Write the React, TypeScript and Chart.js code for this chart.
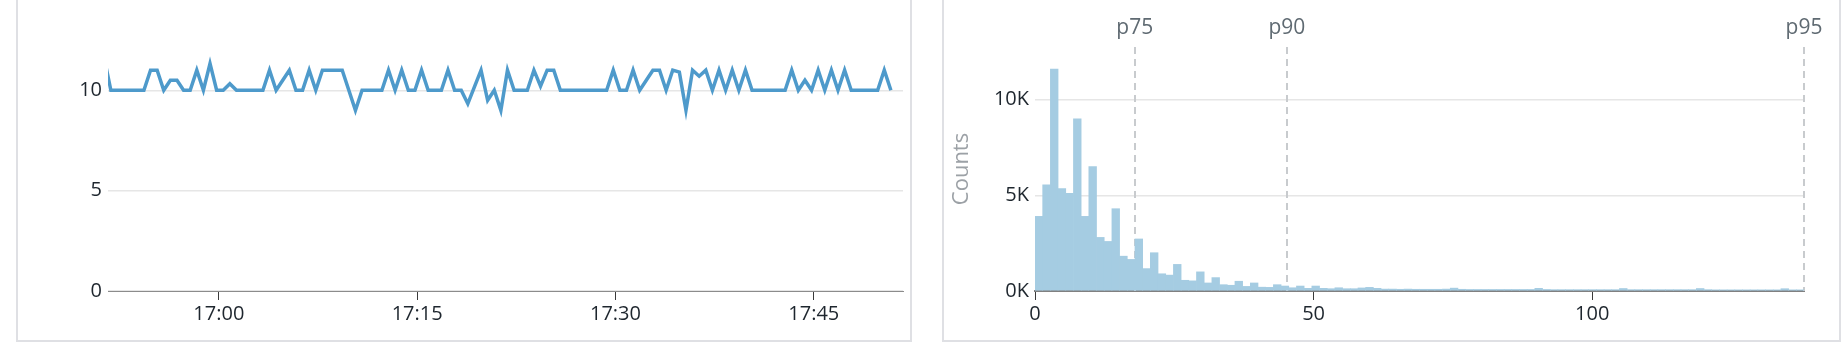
import React, { useEffect, useRef } from 'react';
import { Chart, registerables } from 'chart.js';

Chart.register(...registerables);
Chart.defaults.font.family = "'Open Sans', sans-serif";

// ---------- Left: time series ----------
const sampleStartSec = -520; // first sample, seconds relative to 17:00
const sampleStepSec = 30;
const lineValues = [
  11.6, 10, 10, 10, 10, 10, 10, 11, 11, 10,
  10.5, 10.5, 10, 10, 11, 10, 11.33, 10, 10, 10.33,
  10, 10, 10, 10, 10, 11, 10, 10.5, 11, 10,
  10, 11, 10, 11, 11, 11, 11, 10, 9, 10,
  10, 10, 10, 11, 10, 11, 10, 10, 11, 10,
  10, 10, 11, 10, 10, 9.33, 10.17, 11, 9.5, 10,
  9, 11, 10, 10, 10, 11, 10.2, 11, 11, 10,
  10, 10, 10, 10, 10, 10, 10, 11, 10, 10,
  11, 10, 10.5, 11, 11, 10, 11, 10.9, 9, 11,
  10.7, 11, 10, 11, 10, 11, 10, 11, 10, 10,
  10, 10, 10, 10, 11, 10, 10.5, 10, 11, 10,
  11, 10, 11, 10, 10, 10, 10, 10, 11, 10,
];
const lineXMin = -503;
const lineXMax = 3105;
const lineXTickValues = [0, 900, 1800, 2700];
const lineXTickLabels = ['17:00', '17:15', '17:30', '17:45'];
const lineYTicks = [0, 5, 10];
const lineYMax = 13.6;

// ---------- Right: histogram ----------
const binWidth = 1.38;
const binCounts = [
  3900, 5550, 11600, 5350, 5100, 9000, 3900, 6500, 2800, 2590,
  4300, 1820, 1650, 2720, 1170, 2000, 900, 830, 1390, 560,
  530, 1000, 420, 700, 330, 300, 510, 240, 420, 200,
  190, 330, 260, 170, 260, 140, 260, 140, 120, 170,
  120, 120, 160, 190, 140, 100, 100, 90, 100, 90,
  90, 90, 90, 100, 150, 90, 80, 80, 80, 80,
  80, 80, 80, 80, 80, 140, 80, 70, 70, 70,
  70, 70, 70, 70, 70, 70, 130, 70, 70, 70,
  70, 70, 70, 70, 70, 70, 130, 70, 60, 60,
  60, 60, 60, 60, 60, 60, 60, 120, 60, 60,
];
const histXMax = 138;
const histXTicks = [0, 50, 100];
const histYTicks = [0, 5000, 10000];
const histYMax = 12750;
const percentileLabels = ['p75', 'p90', 'p95'];
const percentileValues = [17.9, 45.2, 138];

const TICK_COLOR = '#1e262e';
const GRID_COLOR = '#e6e6e6';

const percentilePlugin = {
  id: 'percentiles',
  beforeDatasetsDraw(chart: any) {
    const { ctx, chartArea, scales } = chart;
    const x = scales.x;
    ctx.save();
    ctx.strokeStyle = '#c8cbce';
    ctx.lineWidth = 2;
    ctx.setLineDash([7, 5]);
    percentileValues.forEach((v) => {
      const px = Math.round(x.getPixelForValue(v));
      ctx.beginPath();
      ctx.moveTo(px, chartArea.top);
      ctx.lineTo(px, chartArea.bottom);
      ctx.stroke();
    });
    ctx.restore();
  },
  afterDraw(chart: any) {
    const { ctx, scales } = chart;
    const x = scales.x;
    ctx.save();
    ctx.fillStyle = '#5f6a72';
    ctx.font = "21px 'Open Sans', sans-serif";
    ctx.textAlign = 'center';
    ctx.textBaseline = 'alphabetic';
    percentileValues.forEach((v, i) => {
      const px = x.getPixelForValue(v);
      ctx.fillText(percentileLabels[i], px, 34);
    });
    ctx.restore();
  },
};

function LineChart() {
  const ref = useRef<HTMLCanvasElement>(null);
  useEffect(() => {
    const chart = new Chart(ref.current as HTMLCanvasElement, {
      type: 'line',
      data: {
        datasets: [
          {
            data: lineValues.map((v, i) => ({ x: sampleStartSec + i * sampleStepSec, y: v })),
            borderColor: '#4e9acb',
            borderWidth: 3.5,
            pointRadius: 0,
            tension: 0,
            fill: false,
            clip: { left: 0, right: 2, top: 5, bottom: 5 },
          },
        ],
      },
      options: {
        animation: false,
        responsive: true,
        maintainAspectRatio: false,
        events: [],
        layout: { padding: { top: 18, right: 3, bottom: 0, left: 0 } },
        plugins: { legend: { display: false }, tooltip: { enabled: false } },
        scales: {
          x: {
            type: 'linear',
            min: lineXMin,
            max: lineXMax,
            afterFit: (s: any) => { s.height = 47; },
            afterBuildTicks: (s: any) => { s.ticks = lineXTickValues.map((v) => ({ value: v })); },
            ticks: {
              autoSkip: false,
              maxRotation: 0,
              padding: 2,
              color: TICK_COLOR,
              font: { size: 20 },
              callback: (v: any) => {
                const i = lineXTickValues.indexOf(Number(v));
                return i >= 0 ? lineXTickLabels[i] : '';
              },
            },
            grid: { display: true, drawOnChartArea: false, drawTicks: true, tickLength: 9, tickColor: '#3a3a3a', tickWidth: 1 },
            border: { display: true, color: '#8c8c8c', width: 1 },
          },
          y: {
            type: 'linear',
            min: 0,
            max: lineYMax,
            afterFit: (s: any) => { s.width = 88; },
            afterBuildTicks: (s: any) => { s.ticks = lineYTicks.map((v) => ({ value: v })); },
            ticks: { padding: 6, color: TICK_COLOR, font: { size: 20 } },
            grid: { color: GRID_COLOR, drawTicks: false, lineWidth: 1.5 },
            border: { display: false },
          },
        },
      },
    } as any);
    return () => chart.destroy();
  }, []);
  return <canvas ref={ref} />;
}

function HistChart() {
  const ref = useRef<HTMLCanvasElement>(null);
  useEffect(() => {
    const chart = new Chart(ref.current as HTMLCanvasElement, {
      type: 'bar',
      data: {
        datasets: [
          {
            data: binCounts.map((c, i) => ({ x: (i + 0.5) * binWidth, y: c })),
            backgroundColor: '#a5cce2',
            borderWidth: 0,
            barPercentage: 1,
            categoryPercentage: 1,
          },
        ],
      },
      options: {
        animation: false,
        responsive: true,
        maintainAspectRatio: false,
        events: [],
        layout: { padding: { top: 47, right: 32, bottom: 0, left: 0 } },
        plugins: { legend: { display: false }, tooltip: { enabled: false } },
        scales: {
          x: {
            type: 'linear',
            min: 0,
            max: histXMax,
            offset: false,
            afterFit: (s: any) => { s.height = 47; },
            afterBuildTicks: (s: any) => { s.ticks = histXTicks.map((v) => ({ value: v })); },
            ticks: { autoSkip: false, maxRotation: 0, padding: 2, color: TICK_COLOR, font: { size: 20 } },
            grid: { display: true, offset: false, drawOnChartArea: false, drawTicks: true, tickLength: 9, tickColor: '#3a3a3a', tickWidth: 1 },
            border: { display: true, color: '#808080', width: 2 },
          },
          y: {
            type: 'linear',
            min: 0,
            max: histYMax,
            afterFit: (s: any) => { s.width = 89; },
            afterBuildTicks: (s: any) => { s.ticks = histYTicks.map((v) => ({ value: v })); },
            ticks: {
              padding: 6,
              color: TICK_COLOR,
              font: { size: 20 },
              callback: (v: any) => `${Math.round(Number(v) / 1000)}K`,
            },
            title: { display: true, text: 'Counts', color: '#9ca1a6', font: { size: 22 }, padding: { top: 3, bottom: 0 } },
            grid: { color: GRID_COLOR, drawTicks: false, lineWidth: 1.5 },
            border: { display: false },
          },
        },
      },
      plugins: [percentilePlugin],
    } as any);
    return () => chart.destroy();
  }, []);
  return <canvas ref={ref} />;
}

const panelStyle = (left: number, width: number): React.CSSProperties => ({
  position: 'absolute',
  left,
  top: -10,
  width,
  height: 352,
  boxSizing: 'border-box',
  border: '2px solid #dfe0e4',
  background: '#fff',
});

export default function App() {
  return (
    <div style={{ position: 'absolute', left: 0, top: 0, width: 1846, height: 360, overflow: 'hidden', background: '#fff' }}>
      <div style={panelStyle(16, 896)} />
      <div style={panelStyle(942, 899)} />
      <div style={{ position: 'absolute', left: 20, top: 0, width: 886, height: 338 }}>
        <LineChart />
      </div>
      <div style={{ position: 'absolute', left: 946, top: 0, width: 890, height: 338 }}>
        <HistChart />
      </div>
    </div>
  );
}
